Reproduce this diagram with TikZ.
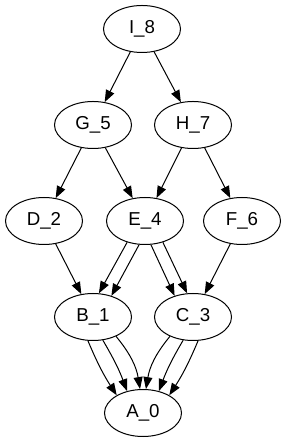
\documentclass[tikz,border=0pt]{standalone}
\usepackage{fontspec}
\setmainfont{Liberation Sans}
\usetikzlibrary{arrows.meta,shapes.geometric}
\tikzset{
  gnode/.style={draw, ellipse, line width=1pt, minimum width=77pt, minimum height=47pt, inner sep=0pt,
    font=\fontsize{18.7}{22}\selectfont},
  gedge/.style={line width=1pt, -{Triangle[length=12pt,width=9pt]}}
}
\begin{document}
\begin{tikzpicture}[x=1pt,y=1pt]
\useasboundingbox (0,0) rectangle (285,443);
\node[gnode] (I8) at (142,414) {I\_8};
\node[gnode] (G5) at (93,318) {G\_5};
\node[gnode] (H7) at (193,318) {H\_7};
\node[gnode] (D2) at (44,222) {D\_2};
\node[gnode] (E4) at (145,222) {E\_4};
\node[gnode] (F6) at (242,222) {F\_6};
\node[gnode] (B1) at (93,126) {B\_1};
\node[gnode] (C3) at (193,126) {C\_3};
\node[gnode] (A0) at (143,30) {A\_0};
\draw[gedge] (I8) -- (G5);
\draw[gedge] (I8) -- (H7);
\draw[gedge] (G5) -- (D2);
\draw[gedge] (G5) -- (E4);
\draw[gedge] (H7) -- (E4);
\draw[gedge] (H7) -- (F6);
\draw[gedge] (D2) -- (B1);
\draw[gedge] (F6) -- (C3);
\draw[gedge] (E4.230) -- (B1.76);
\draw[gedge] (E4.256) -- (B1.49);
\draw[gedge] (E4.284) -- (C3.131);
\draw[gedge] (E4.310) -- (C3.104);
\draw[gedge] (B1.258) to[bend right=5] (A0.146);
\draw[gedge] (B1.293) to[bend left=5] (A0.126);
\draw[gedge] (B1.320) to[bend left=15] (A0.97);
\draw[gedge] (C3.282) to[bend left=5] (A0.34);
\draw[gedge] (C3.247) to[bend right=5] (A0.54);
\draw[gedge] (C3.220) to[bend right=15] (A0.83);
\end{tikzpicture}
\end{document}
